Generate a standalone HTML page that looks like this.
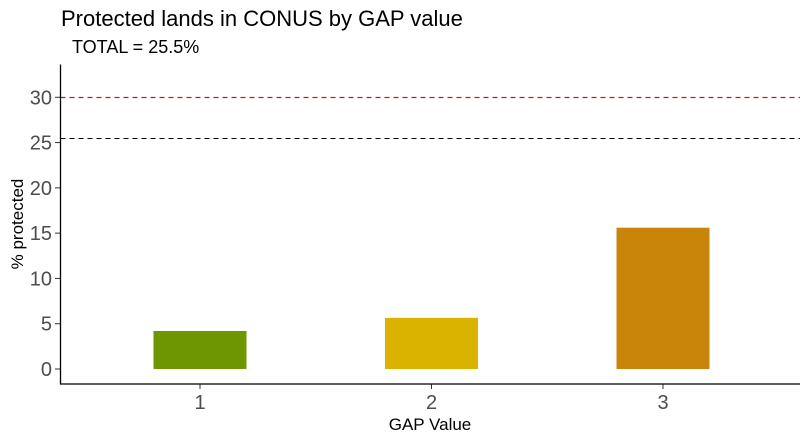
<!DOCTYPE html>
<html><head><meta charset="utf-8"><style>
body{margin:0;background:#fff;}
svg{display:block;font-family:"Liberation Sans",Arial,sans-serif;}
</style></head><body>
<svg id="c" width="811" height="441">
<text x="61" y="26" font-size="22" fill="#000">Protected lands in CONUS by GAP value</text>
<text x="72" y="53" font-size="18" fill="#000">TOTAL = 25.5%</text>
<text transform="translate(23,224) rotate(-90)" text-anchor="middle" font-size="17" fill="#000">% protected</text>
<text x="430" y="430" text-anchor="middle" font-size="17" fill="#000">GAP Value</text>
<g id="marks"></g>
</svg>
<script>
const categories=["1","2","3"];
const values=[4.2,5.65,15.6];
const colors=["#6e9600","#d9b300","#c9840a"];
const yTicks=[0,5,10,15,20,25,30];
const totalLine=[25.5];
const targetLine=[30];
const X0=60.5,X1=800,Y0=369,PU=9.057;
const y=v=>Y0-v*PU;
const xc=i=>200+i*231.5;
const g=document.getElementById('marks');
const NS="http://www.w3.org/2000/svg";
function mk(t,a){const e=document.createElementNS(NS,t);for(const k in a)e.setAttribute(k,a[k]);g.appendChild(e);return e;}
values.forEach((v,i)=>{
 const r=mk('rect',{x:xc(i)-46.5,y:y(v),width:93,height:y(0)-y(v),fill:colors[i]});
 
 
 const t=mk('text',{x:xc(i),y:409,'text-anchor':'middle','font-size':20,fill:'#4d4d4d'});t.textContent=categories[i];
 
 
 mk('line',{x1:xc(i),x2:xc(i),y1:384,y2:389,stroke:'#333'});
});
const l1=mk('line',{x1:X0,x2:X1,y1:Math.round(y(targetLine[0]))+0.5,y2:Math.round(y(targetLine[0]))+0.5,stroke:'#b22222','stroke-dasharray':'5,4','stroke-width':1.2});


const l2=mk('line',{x1:X0,x2:X1,y1:Math.round(y(totalLine[0]))+0.5,y2:Math.round(y(totalLine[0]))+0.5,stroke:'#000','stroke-dasharray':'5,4','stroke-width':1});


yTicks.forEach(v=>{
 mk('line',{x1:55,x2:60,y1:y(v),y2:y(v),stroke:'#333'});
 const t=mk('text',{x:52,y:y(v)+7,'text-anchor':'end','font-size':20,fill:'#4d4d4d'});t.textContent=v;
 
 
});
const ax=mk('path',{d:`M${X0},64.5V384H${X1}`,fill:'none',stroke:'#000','stroke-width':1.3});


</script>
</body></html>
